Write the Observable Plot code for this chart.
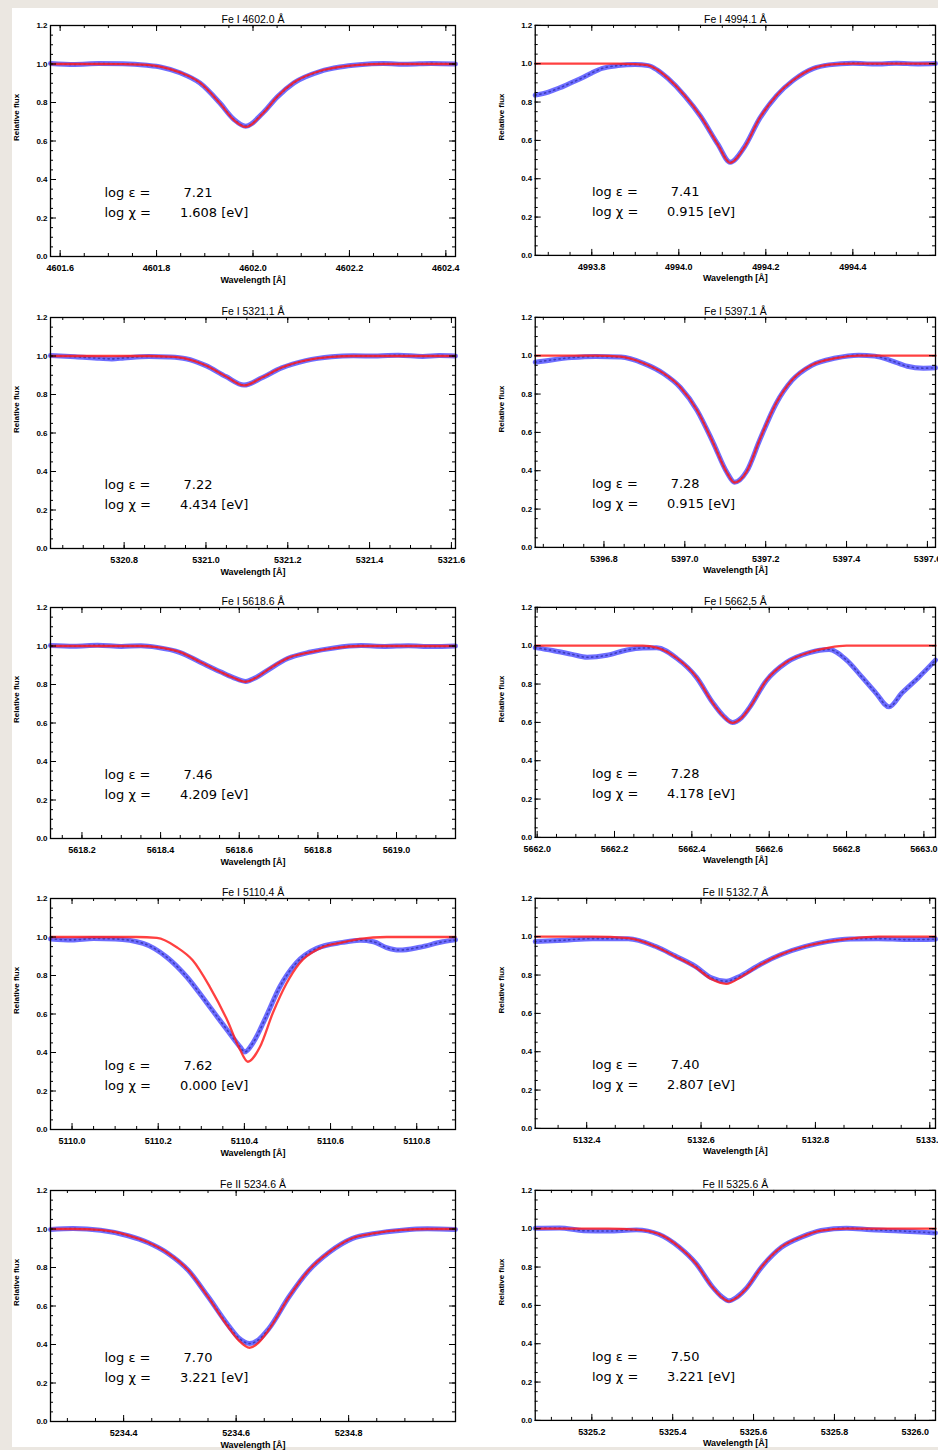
<!DOCTYPE html>
<html>
<head>
<meta charset="utf-8">
<script src="https://cdn.jsdelivr.net/npm/d3@7"></script>
<script src="https://cdn.jsdelivr.net/npm/@observablehq/plot@0.6"></script>
<style>
  html, body { margin: 0; padding: 0; background: #ebe7e1; overflow: hidden; }
  #sheet { position: absolute; left: 12px; top: 8px; width: 930px; height: 1439px; background: #fff; }
  .cell { position: absolute; }
</style>
</head>
<body>
<div id="sheet"></div>
<script>
// ---- Line identifications and fitted parameters ----
const lineTitles = ["Fe I 4602.0 Å", "Fe I 4994.1 Å", "Fe I 5321.1 Å", "Fe I 5397.1 Å", "Fe I 5618.6 Å",
                    "Fe I 5662.5 Å", "Fe I 5110.4 Å", "Fe II 5132.7 Å", "Fe II 5234.6 Å", "Fe II 5325.6 Å"];
const logEps = ["7.21", "7.41", "7.22", "7.28", "7.46", "7.28", "7.62", "7.40", "7.70", "7.50"];
const chiEV  = ["1.608", "0.915", "4.434", "0.915", "4.209", "4.178", "0.000", "2.807", "3.221", "3.221"];

const yMajor = [0, 0.2, 0.4, 0.6, 0.8, 1.0, 1.2];

// ---- Fe I 4602.0 ----
const p1Domain = [4601.58, 4602.42];
const p1Ticks = [4601.6, 4601.8, 4602.0, 4602.2, 4602.4];
const p1Wave = [4601.58, 4601.63, 4601.68, 4601.73, 4601.78, 4601.81, 4601.85, 4601.89, 4601.93, 4601.96, 4601.985,
                4602.02, 4602.05, 4602.085, 4602.14, 4602.18, 4602.22, 4602.27, 4602.32, 4602.37, 4602.42];
const p1Fit = [1.000, 1.000, 1.000, 0.999, 0.995, 0.985, 0.955, 0.903, 0.800, 0.710, 0.673,
               0.742, 0.830, 0.905, 0.965, 0.985, 0.995, 1.000, 1.000, 1.000, 1.000];
const p1Obs = [1.003, 0.998, 1.002, 1.001, 0.993, 0.983, 0.953, 0.901, 0.801, 0.713, 0.677,
               0.744, 0.828, 0.902, 0.962, 0.984, 0.996, 1.002, 0.999, 1.003, 1.000];

// ---- Fe I 4994.1 ----
const p2Domain = [4993.67, 4994.59];
const p2Ticks = [4993.8, 4994.0, 4994.2, 4994.4];
const p2Wave = [4993.67, 4993.70, 4993.725, 4993.75, 4993.777, 4993.80, 4993.823, 4993.86, 4993.90, 4993.93, 4993.95,
                4993.975, 4994.013, 4994.05, 4994.09, 4994.118, 4994.15, 4994.186, 4994.225, 4994.263, 4994.31,
                4994.345, 4994.40, 4994.45, 4994.50, 4994.55, 4994.59];
const p2Fit = [1.000, 1.000, 1.000, 1.000, 1.000, 1.000, 1.000, 1.000, 0.998, 0.992, 0.970,
               0.925, 0.836, 0.727, 0.577, 0.483, 0.561, 0.717, 0.836, 0.914, 0.977,
               0.995, 1.000, 1.000, 1.000, 1.000, 1.000];
const p2Obs = [0.836, 0.852, 0.873, 0.898, 0.925, 0.952, 0.975, 0.990, 0.996, 0.990, 0.968,
               0.923, 0.834, 0.726, 0.579, 0.486, 0.563, 0.715, 0.834, 0.913, 0.976,
               0.994, 1.003, 0.998, 1.002, 0.999, 1.001];

// ---- Fe I 5321.1 ----
const p3Domain = [5320.62, 5321.61];
const p3Ticks = [5320.8, 5321.0, 5321.2, 5321.4, 5321.6];
const p3Wave = [5320.62, 5320.68, 5320.74, 5320.77, 5320.80, 5320.86, 5320.91, 5320.951, 5321.0, 5321.049, 5321.093,
                5321.137, 5321.185, 5321.244, 5321.307, 5321.36, 5321.42, 5321.47, 5321.53, 5321.57, 5321.61];
const p3Fit = [1.000, 1.000, 1.000, 1.000, 1.000, 1.000, 0.997, 0.987, 0.951, 0.894, 0.847,
               0.888, 0.940, 0.977, 0.995, 1.000, 1.000, 1.000, 1.000, 1.000, 1.000];
const p3Obs = [1.002, 0.996, 0.988, 0.985, 0.990, 0.998, 0.995, 0.986, 0.950, 0.893, 0.849,
               0.887, 0.938, 0.976, 0.996, 1.001, 1.000, 1.004, 0.998, 1.002, 1.000];

// ---- Fe I 5397.1 ----
const p4Domain = [5396.63, 5397.62];
const p4Ticks = [5396.8, 5397.0, 5397.2, 5397.4, 5397.6];
const p4Wave = [5396.63, 5396.67, 5396.72, 5396.78, 5396.842, 5396.898, 5396.947, 5396.989, 5397.03, 5397.07,
                5397.104, 5397.123, 5397.153, 5397.185, 5397.226, 5397.265, 5397.314, 5397.373, 5397.43,
                5397.47, 5397.51, 5397.55, 5397.59, 5397.62];
const p4Fit = [1.000, 1.000, 1.000, 1.000, 0.995, 0.961, 0.909, 0.836, 0.717, 0.545,
               0.390, 0.338, 0.395, 0.561, 0.753, 0.873, 0.951, 0.987, 1.000,
               1.000, 1.000, 1.000, 1.000, 1.000];
const p4Obs = [0.966, 0.978, 0.990, 0.996, 0.993, 0.960, 0.907, 0.834, 0.716, 0.547,
               0.392, 0.340, 0.397, 0.559, 0.751, 0.871, 0.950, 0.988, 1.003,
               0.998, 0.975, 0.945, 0.935, 0.937];

// ---- Fe I 5618.6 ----
const p5Domain = [5618.12, 5619.15];
const p5Ticks = [5618.2, 5618.4, 5618.6, 5618.8, 5619.0];
const p5Wave = [5618.12, 5618.18, 5618.24, 5618.30, 5618.35, 5618.391, 5618.45, 5618.501, 5618.552, 5618.585, 5618.616,
                5618.645, 5618.672, 5618.723, 5618.782, 5618.841, 5618.91, 5618.97, 5619.03, 5619.09, 5619.15];
const p5Fit = [1.000, 1.000, 1.000, 1.000, 1.000, 0.994, 0.968, 0.917, 0.865, 0.835, 0.814,
               0.838, 0.876, 0.937, 0.968, 0.989, 1.000, 1.000, 1.000, 1.000, 1.000];
const p5Obs = [1.003, 0.999, 1.004, 0.998, 1.001, 0.993, 0.966, 0.916, 0.866, 0.836, 0.816,
               0.839, 0.874, 0.935, 0.969, 0.990, 1.002, 0.998, 1.001, 0.997, 1.000];

// ---- Fe I 5662.5 (blend at 5662.9 present only in the observed spectrum) ----
const p6Domain = [5661.995, 5663.03];
const p6Ticks = [5662.0, 5662.2, 5662.4, 5662.6, 5662.8, 5663.0];
const p6Wave = [5661.995, 5662.04, 5662.09, 5662.129, 5662.18, 5662.232, 5662.273, 5662.309, 5662.361, 5662.412,
                5662.454, 5662.48, 5662.505, 5662.528, 5662.549, 5662.593, 5662.644, 5662.704, 5662.755,
                5662.80, 5662.84, 5662.876, 5662.91, 5662.943, 5662.987, 5663.03];
const p6Fit = [1.000, 1.000, 1.000, 1.000, 1.000, 1.000, 1.000, 0.990, 0.935, 0.836,
               0.701, 0.635, 0.597, 0.622, 0.675, 0.821, 0.914, 0.966, 0.990,
               1.000, 1.000, 1.000, 1.000, 1.000, 1.000, 1.000];
const p6Obs = [0.990, 0.975, 0.955, 0.940, 0.950, 0.978, 0.988, 0.989, 0.934, 0.835,
               0.703, 0.637, 0.600, 0.624, 0.677, 0.819, 0.912, 0.964, 0.980,
               0.925, 0.836, 0.753, 0.681, 0.753, 0.836, 0.925];

// ---- Fe I 5110.4 ----
const p7Domain = [5109.95, 5110.89];
const p7Ticks = [5110.0, 5110.2, 5110.4, 5110.6, 5110.8];
const p7FitWave = [5109.95, 5110.02, 5110.09, 5110.15, 5110.197, 5110.243, 5110.28, 5110.32, 5110.36, 5110.39, 5110.408,
                   5110.436, 5110.466, 5110.498, 5110.528, 5110.575, 5110.628, 5110.668, 5110.73, 5110.80, 5110.89];
const p7Fit = [1.000, 1.000, 1.000, 1.000, 0.995, 0.947, 0.879, 0.740, 0.569, 0.414, 0.352,
               0.429, 0.605, 0.760, 0.864, 0.941, 0.972, 0.990, 1.000, 1.000, 1.000];
const p7ObsWave = [5109.95, 5110.00, 5110.05, 5110.10, 5110.165, 5110.22, 5110.267, 5110.313, 5110.36, 5110.39,
                   5110.401, 5110.42, 5110.45, 5110.482, 5110.52, 5110.568, 5110.628, 5110.668, 5110.70, 5110.73,
                   5110.76, 5110.807, 5110.86, 5110.89];
const p7Obs = [0.990, 0.985, 0.992, 0.990, 0.967, 0.895, 0.791, 0.657, 0.517, 0.429,
               0.403, 0.450, 0.584, 0.740, 0.864, 0.941, 0.972, 0.983, 0.975, 0.945,
               0.932, 0.947, 0.975, 0.985];

// ---- Fe II 5132.7 ----
const p8Domain = [5132.31, 5133.01];
const p8Ticks = [5132.4, 5132.6, 5132.8, 5133.0];
const p8Wave = [5132.31, 5132.36, 5132.41, 5132.473, 5132.52, 5132.555, 5132.59, 5132.618, 5132.644,
                5132.67, 5132.705, 5132.74, 5132.781, 5132.821, 5132.861, 5132.91, 5132.96, 5133.01];
const p8Fit = [1.000, 1.000, 1.000, 0.993, 0.949, 0.897, 0.841, 0.779, 0.754,
               0.790, 0.856, 0.908, 0.949, 0.974, 0.990, 1.000, 1.000, 1.000];
const p8Obs = [0.975, 0.982, 0.990, 0.990, 0.950, 0.899, 0.845, 0.786, 0.768,
               0.797, 0.858, 0.907, 0.948, 0.975, 0.988, 0.990, 0.985, 0.987];

// ---- Fe II 5234.6 ----
const p9Domain = [5234.27, 5234.99];
const p9Ticks = [5234.4, 5234.6, 5234.8];
const p9Wave = [5234.27, 5234.31, 5234.359, 5234.408, 5234.443, 5234.479, 5234.515, 5234.55, 5234.586, 5234.605, 5234.624,
                5234.64, 5234.658, 5234.694, 5234.729, 5234.765, 5234.806, 5234.847, 5234.895, 5234.94, 5234.99];
const p9Fit = [1.000, 1.000, 0.995, 0.967, 0.931, 0.874, 0.786, 0.647, 0.491, 0.420, 0.383,
               0.410, 0.476, 0.647, 0.786, 0.879, 0.952, 0.978, 0.995, 1.000, 1.000];
const p9Obs = [0.997, 1.002, 0.993, 0.965, 0.930, 0.873, 0.785, 0.649, 0.500, 0.433, 0.405,
               0.425, 0.482, 0.648, 0.784, 0.878, 0.950, 0.977, 0.994, 1.001, 0.998];

// ---- Fe II 5325.6 ----
const p10Domain = [5325.06, 5326.05];
const p10Ticks = [5325.2, 5325.4, 5325.6, 5325.8, 5326.0];
const p10Wave = [5325.06, 5325.12, 5325.18, 5325.24, 5325.31, 5325.367, 5325.416, 5325.458, 5325.497, 5325.52, 5325.539,
                 5325.558, 5325.58, 5325.62, 5325.669, 5325.718, 5325.767, 5325.83, 5325.89, 5325.95, 5326.00, 5326.05];
const p10Fit = [1.000, 1.000, 1.000, 1.000, 0.995, 0.972, 0.905, 0.817, 0.698, 0.645, 0.621,
                0.640, 0.683, 0.802, 0.905, 0.957, 0.990, 1.000, 1.000, 1.000, 1.000, 1.000];
const p10Obs = [1.002, 1.004, 0.990, 0.988, 0.994, 0.970, 0.904, 0.818, 0.700, 0.648, 0.624,
                0.642, 0.684, 0.800, 0.903, 0.956, 0.991, 1.003, 0.995, 0.990, 0.984, 0.978];

// ---- Panel table (row-major: left column, right column) ----
const panels = [
  {domain: p1Domain, ticks: p1Ticks, fit: [p1Wave, p1Fit], obs: [p1Wave, p1Obs]},
  {domain: p2Domain, ticks: p2Ticks, fit: [p2Wave, p2Fit], obs: [p2Wave, p2Obs]},
  {domain: p3Domain, ticks: p3Ticks, fit: [p3Wave, p3Fit], obs: [p3Wave, p3Obs]},
  {domain: p4Domain, ticks: p4Ticks, fit: [p4Wave, p4Fit], obs: [p4Wave, p4Obs]},
  {domain: p5Domain, ticks: p5Ticks, fit: [p5Wave, p5Fit], obs: [p5Wave, p5Obs]},
  {domain: p6Domain, ticks: p6Ticks, fit: [p6Wave, p6Fit], obs: [p6Wave, p6Obs]},
  {domain: p7Domain, ticks: p7Ticks, fit: [p7FitWave, p7Fit], obs: [p7ObsWave, p7Obs]},
  {domain: p8Domain, ticks: p8Ticks, fit: [p8Wave, p8Fit], obs: [p8Wave, p8Obs]},
  {domain: p9Domain, ticks: p9Ticks, fit: [p9Wave, p9Fit], obs: [p9Wave, p9Obs]},
  {domain: p10Domain, ticks: p10Ticks, fit: [p10Wave, p10Fit], obs: [p10Wave, p10Obs]}
].map((p, i) => ({...p, title: lineTitles[i], eps: logEps[i], chi: chiEV[i]}));

const pairs = (w, f) => w.map((x, k) => ({w: x, f: f[k]}));
const oneDecimal = d => d.toFixed(1);
const yMinor = d3.range(0, 25).map(k => k / 20);
const sp = n => "\u00a0".repeat(n);

const colLeft = [0, 470];
const rowTop = [0, 292, 582, 873, 1165];

function drawPanel(p, col, row) {
  const W = 470, H = 291, mt = 25, mb = 35;
  const ml = col ? 65 : 50, mr = col ? 3 : 15;
  const fw = W - ml - mr, fh = H - mt - mb;
  const [lo, hi] = p.domain;
  const xMinor = d3.range(Math.ceil(lo * 20 - 1e-6), Math.floor(hi * 20 + 1e-6) + 1).map(k => k / 20);
  const fit = pairs(p.fit[0], p.fit[1]);
  const obs = pairs(p.obs[0], p.obs[1]);
  const textX = col ? 57 : 54;
  const note = {frameAnchor: "bottom-left", textAnchor: "start", dx: textX, fontSize: 13, fontFamily: "'DejaVu Sans', sans-serif"};

  const svg = Plot.plot({
    width: W, height: H,
    marginTop: mt, marginBottom: mb, marginLeft: ml, marginRight: mr,
    style: {background: "transparent", color: "#000", fontFamily: "'Liberation Sans', Arial, sans-serif", overflow: "visible"},
    x: {domain: p.domain},
    y: {domain: [0, 1.2]},
    marks: [
      // observed spectrum (broad blue band with darker sample texture)
      Plot.line(obs, {x: "w", y: "f", stroke: "#3434ff", strokeWidth: 5, strokeOpacity: 0.72, curve: "monotone-x"}),
      Plot.line(obs, {x: "w", y: "f", stroke: "#10107a", strokeWidth: 1.6, strokeOpacity: 0.5, strokeDasharray: "1.2 3.6", curve: "monotone-x"}),
      // synthetic best fit
      Plot.line(fit, {x: "w", y: "f", stroke: "#ff1f1f", strokeWidth: 2.3, strokeOpacity: 0.85, curve: "monotone-x"}),
      Plot.frame({stroke: "#000", strokeWidth: 1.3}),
      // inward ticks on all four sides
      Plot.tickX(p.ticks, {x: d => d, insetTop: fh - 6, stroke: "#000"}),
      Plot.tickX(p.ticks, {x: d => d, insetBottom: fh - 6, stroke: "#000"}),
      Plot.tickX(xMinor, {x: d => d, insetTop: fh - 3, stroke: "#000"}),
      Plot.tickX(xMinor, {x: d => d, insetBottom: fh - 3, stroke: "#000"}),
      Plot.tickY(yMajor, {y: d => d, insetRight: fw - 6, stroke: "#000"}),
      Plot.tickY(yMajor, {y: d => d, insetLeft: fw - 6, stroke: "#000"}),
      Plot.tickY(yMinor, {y: d => d, insetRight: fw - 3, stroke: "#000"}),
      Plot.tickY(yMinor, {y: d => d, insetLeft: fw - 3, stroke: "#000"}),
      Plot.axisX(p.ticks, {anchor: "bottom", tickSize: 0, tickPadding: 8, tickFormat: oneDecimal, label: null, fontSize: 9, fontWeight: "bold"}),
      Plot.axisY(yMajor, {anchor: "left", tickSize: 0, tickPadding: 3, tickFormat: oneDecimal, label: null, fontSize: 8, fontWeight: "bold"}),
      Plot.text([p.title], {text: d => d, frameAnchor: "top", dy: -10, fontSize: 10.5}),
      Plot.text(["Wavelength [Å]"], {text: d => d, frameAnchor: "bottom", dy: 26, fontSize: 9, fontWeight: "bold"}),
      Plot.text(["Relative flux"], {text: d => d, frameAnchor: "left", dx: -34, rotate: -90, fontSize: 8, fontWeight: "bold"}),
      Plot.text([`log ε =${sp(8)}${p.eps}`], {...note, text: d => d, dy: -60}),
      Plot.text([`log χ =${sp(7)}${p.chi} [eV]`], {...note, text: d => d, dy: -40})
    ]
  });

  const cell = document.createElement("div");
  cell.className = "cell";
  cell.style.left = colLeft[col] + "px";
  cell.style.top = rowTop[row] + "px";
  cell.append(svg);
  document.body.append(cell);
}

panels.forEach((p, i) => drawPanel(p, i % 2, Math.floor(i / 2)));
</script>
</body>
</html>
